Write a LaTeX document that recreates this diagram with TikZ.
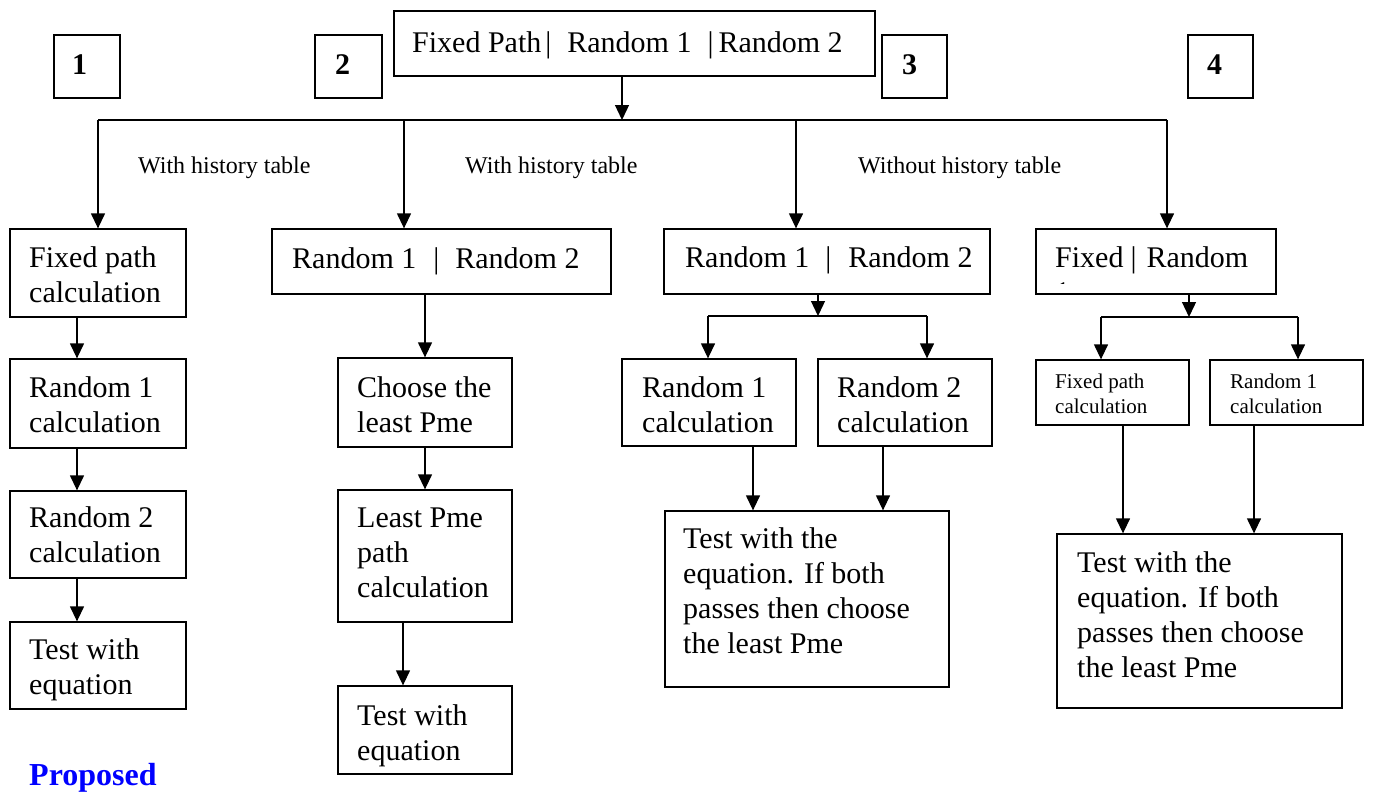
\documentclass[tikz,border=0pt]{standalone}
\usepackage{fontspec}
\setmainfont{Liberation Serif}
\usetikzlibrary{arrows.meta,fit}
\definecolor{propblue}{RGB}{0,0,255}
\tikzset{
  box/.style={draw, line width=1.3pt, inner sep=0pt},
  wire/.style={line width=1.3pt},
  arr/.style={line width=1.3pt, -{Triangle[width=14pt,length=15pt]}},
  % multi-line texts are placed by the baseline of their last line
  txt/.style={anchor=base west, inner sep=0pt, align=left, font=\fontsize{30}{35}\selectfont},
  small/.style={anchor=base west, inner sep=0pt, align=left, font=\fontsize{21}{25}\selectfont},
  lbl/.style={anchor=base west, inner sep=0pt, font=\fontsize{24}{28}\selectfont},
  num/.style={anchor=base west, inner sep=0pt, font=\fontsize{30}{35}\selectfont\bfseries},
}
\begin{document}
\begin{tikzpicture}[x=1pt,y=-1pt]
\useasboundingbox[fill=white] (0,0) rectangle (1373,795);

% numbered scheme boxes
\node[box, fit={(54,35) (120,98)}] (n1) {};
\node[num] (n1t) at (72,74) {1};
\node[box, fit={(315,35) (382,98)}] (n2) {};
\node[num] (n2t) at (335,74) {2};
\node[box, fit={(882,35) (947,98)}] (n3) {};
\node[num] (n3t) at (902,74) {3};
\node[box, fit={(1188,35) (1253,98)}] (n4) {};
\node[num] (n4t) at (1207,74) {4};

% top selector
\node[box, fit={(394,11) (875,76)}] (T) {};
\node[txt] (Tt) at (412,52) {Fixed Path\hspace{4pt}|\hspace{16pt}Random 1\hspace{16pt}|\hspace{5pt}Random 2};

% distribution line
\coordinate (j0) at (622,120);
\coordinate (b1) at (98,120);
\coordinate (b2) at (404,120);
\coordinate (b3) at (796,120);
\coordinate (b4) at (1167,120);
\draw[arr] (T.south -| j0) -- (j0);
\draw[wire] (b1) -- (b4);

\node[lbl] (l1) at (138,173) {With history table};
\node[lbl] (l2) at (465,173) {With history table};
\node[lbl] (l3) at (858,173) {Without history table};

% column 1
\node[box, fit={(10,229) (186,317)}] (c1a) {};
\node[txt] (c1at) at (29,302) {Fixed path\\calculation};
\node[box, fit={(10,359) (186,448)}] (c1b) {};
\node[txt] (c1bt) at (29,432) {Random 1\\calculation};
\node[box, fit={(10,491) (186,578)}] (c1c) {};
\node[txt] (c1ct) at (29,562) {Random 2\\calculation};
\node[box, fit={(10,622) (186,709)}] (c1d) {};
\node[txt] (c1dt) at (29,694) {Test with\\equation};
\coordinate (k1) at (77,0);
\draw[arr] (b1) -- (b1 |- c1a.north);
\draw[arr] (c1a.south -| k1) -- (c1b.north -| k1);
\draw[arr] (c1b.south -| k1) -- (c1c.north -| k1);
\draw[arr] (c1c.south -| k1) -- (c1d.north -| k1);

% column 2
\node[box, fit={(272,229) (611,294)}] (c2a) {};
\node[txt] (c2at) at (292,268) {Random 1\hspace{17pt}|\hspace{16pt}Random 2};
\node[box, fit={(338,358) (512,447)}] (c2b) {};
\node[txt] (c2bt) at (357,432) {Choose the\\least Pme};
\node[box, fit={(338,490) (512,622)}] (c2c) {};
\node[txt] (c2ct) at (357,597) {Least Pme\\path\\calculation};
\node[box, fit={(338,686) (512,774)}] (c2d) {};
\node[txt] (c2dt) at (357,760) {Test with\\equation};
\coordinate (k2) at (403,0);
\draw[arr] (b2) -- (b2 |- c2a.north);
\draw[arr] (c2a.south -| c2b) -- (c2b.north);
\draw[arr] (c2b.south) -- (c2c.north);
\draw[arr] (c2c.south -| k2) -- (c2d.north -| k2);

% column 3
\node[box, fit={(664,229) (990,294)}] (c3a) {};
\node[txt] (c3at) at (685,267) {Random 1\hspace{16pt}|\hspace{17pt}Random 2};
\node[box, fit={(622,359) (796,446)}] (c3b) {};
\node[txt] (c3bt) at (642,432) {Random 1\\calculation};
\node[box, fit={(818,359) (992,446)}] (c3c) {};
\node[txt] (c3ct) at (837,432) {Random 2\\calculation};
\node[box, fit={(665,511) (949,687)}] (c3d) {};
\node[txt] (c3dt) at (683,653) {Test with the\\equation. If both\\passes then choose\\the least Pme};
\coordinate (s3) at (818,316);
\coordinate (s3l) at (708,316);
\coordinate (s3r) at (927,316);
\coordinate (k3l) at (753,0);
\coordinate (k3r) at (883,0);
\draw[arr] (b3) -- (b3 |- c3a.north);
\draw[arr] (c3a.south -| s3) -- (s3);
\draw[wire] (s3l) -- (s3r);
\draw[arr] (s3l) -- (s3l |- c3b.north);
\draw[arr] (s3r) -- (s3r |- c3c.north);
\draw[arr] (c3b.south -| k3l) -- (c3d.north -| k3l);
\draw[arr] (c3c.south -| k3r) -- (c3d.north -| k3r);

% column 4
\node[box, fit={(1036,229) (1276,294)}] (c4a) {};
\begin{scope}
  \clip (1036,229) rectangle (1276,283);
  \node[txt] (c4at) at (1055,302) {Fixed\hspace{7pt}|\hspace{10pt}Random\\1};
\end{scope}
\node[box, fit={(1036,360) (1189,425)}] (c4b) {};
\node[small] (c4bt) at (1055,413) {Fixed path\\calculation};
\node[box, fit={(1210,360) (1363,425)}] (c4c) {};
\node[small] (c4ct) at (1230,413) {Random 1\\calculation};
\node[box, fit={(1057,534) (1342,708)}] (c4d) {};
\node[txt] (c4dt) at (1077,677) {Test with the\\equation. If both\\passes then choose\\the least Pme};
\coordinate (s4) at (1189,317);
\coordinate (s4l) at (1101,317);
\coordinate (s4r) at (1298,317);
\coordinate (k4l) at (1123,0);
\coordinate (k4r) at (1254,0);
\draw[arr] (b4) -- (b4 |- c4a.north);
\draw[arr] (c4a.south -| s4) -- (s4);
\draw[wire] (s4l) -- (s4r);
\draw[arr] (s4l) -- (s4l |- c4b.north);
\draw[arr] (s4r) -- (s4r |- c4c.north);
\draw[arr] (c4b.south -| k4l) -- (c4d.north -| k4l);
\draw[arr] (c4c.south -| k4r) -- (c4d.north -| k4r);

% caption
\node[anchor=base west, inner sep=0pt, font=\fontsize{32}{36}\selectfont\bfseries, text=propblue] (prop) at (29,785) {Proposed};
\end{tikzpicture}
\end{document}
